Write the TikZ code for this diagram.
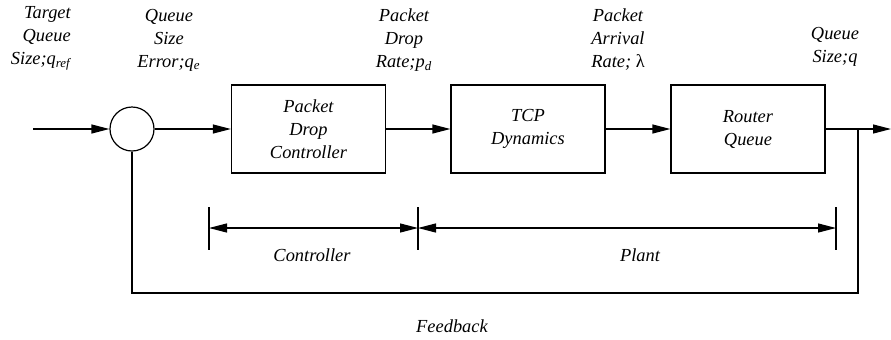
\documentclass[tikz,border=0pt]{standalone}
\usepackage{fontspec}
\setmainfont{Liberation Serif}
\usetikzlibrary{arrows.meta}

\begin{document}
\begin{tikzpicture}[x=0.5pt, y=-0.5pt, line width=0.6pt,
        >={Triangle[length=9pt,width=4.5pt]},
        every node/.style={font=\fontsize{9.2}{11.5}\selectfont\itshape, align=center},
        block/.style={draw, rectangle, minimum width=77pt, minimum height=44pt, inner sep=0pt},
        sumnode/.style={draw, circle, minimum size=22pt, inner sep=0pt}]
        \useasboundingbox (0,0) rectangle (891,339);

        % forward path
        \node (sum) [sumnode] at (132,129) {};
        \node (pdc) [block] at (308.5,129) {Packet\\Drop\\Controller};
        \node (tcp) [block] at (528,129) {TCP\\Dynamics};
        \node (rq) [block] at (748,129) {Router\\Queue};
        \coordinate (in) at (33,129);
        \coordinate (out) at (891,129);
        \coordinate (tap) at (858,129);
        \coordinate (fb) at (858,293);

        \draw[->] (in) -- (sum);
        \draw[->] (sum) -- (pdc);
        \draw[->] (pdc) -- (tcp);
        \draw[->] (tcp) -- (rq);
        \draw[->] (rq) -- (out);
        \draw (tap) -- (fb) -| (sum.south);

        % signal labels
        \node [anchor=east, align=right] at (78,38) {Target\\Queue\\Size;q\textsubscript{ref}};
        \node at (169,40) {Queue\\Size\\Error;q\textsubscript{e}};
        \node at (404,40) {Packet\\Drop\\Rate;p\textsubscript{d}};
        \node at (618,40) {Packet\\Arrival\\Rate; {\upshape λ}};
        \node at (835,47) {Queue\\Size;q};

        % controller / plant spans
        \coordinate (c1) at (209,228);
        \coordinate (c2) at (418,228);
        \coordinate (c3) at (836,228);
        \foreach \t in {c1,c2,c3}
            \draw (\t) ++(0,-21) -- ++(0,43);
        \draw[<->] (c1) -- (c2);
        \draw[<->] (c2) -- (c3);
        \node at (312,255) {Controller};
        \node at (640,255) {Plant};
        \node at (452,326) {Feedback};
    \end{tikzpicture}
\end{document}
